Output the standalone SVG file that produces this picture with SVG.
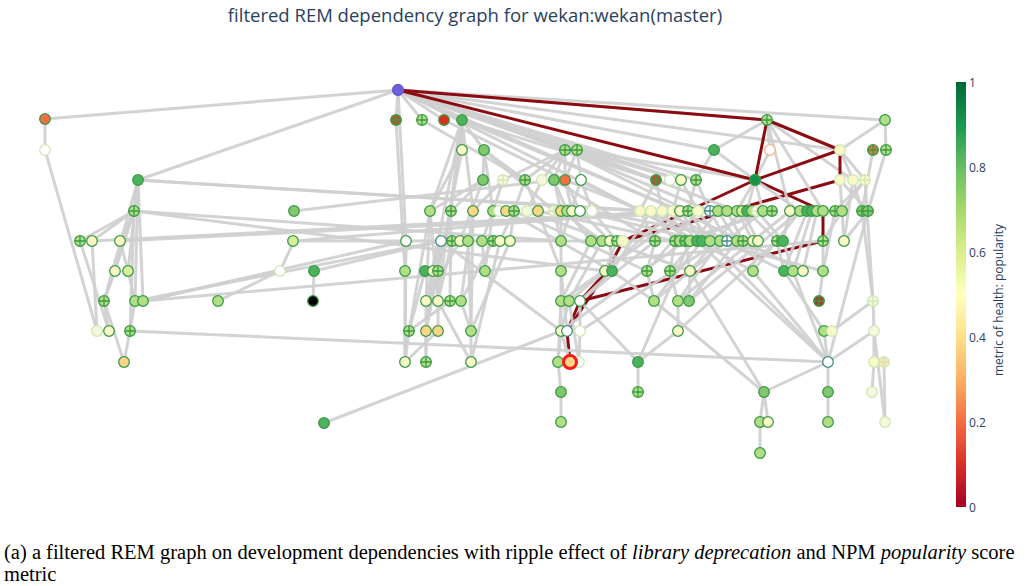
<svg xmlns="http://www.w3.org/2000/svg" width="1034" height="586" viewBox="0 0 1034 586">
<style>
.t{font-family:"Open Sans","DejaVu Sans",sans-serif;fill:#2a3f5f}
.cap{font-family:"Liberation Serif",serif;fill:#000}
#edges path{fill:none;stroke-linecap:round}
.ge path{stroke:#cfcfcf;stroke-width:3;stroke-opacity:.92}
.re path{stroke:#8b0b12;stroke-width:3}
.nd{stroke:#3a9a46;stroke-width:1.3}
.nd use{fill:none}
.fa{stroke:#cfe6b6}
.te{stroke:#3e8e84}
.os{stroke:#f5b48c}
.dg{fill:#17924a}.g{fill:#4bb35d}.m{fill:#80c86e}.lg{fill:#b2de86}.yg{fill:#d8ee9c}
.ly{fill:#f9f8c6}.w{fill:#fff}.ol{fill:#fcd688}.or{fill:#f46d43}.r{fill:#d7301f}
.br{fill:#b4552e}.k{fill:#000}.fy{fill:#f4f9de}
</style>
<defs>
<path id="x" d="M-5.3 0H5.3M0-5.3V5.3"/>
<linearGradient id="cs" x1="0" y1="1" x2="0" y2="0">
<stop offset="0" stop-color="#a50026"/><stop offset=".1" stop-color="#d73027"/>
<stop offset=".2" stop-color="#f46d43"/><stop offset=".3" stop-color="#fdae61"/>
<stop offset=".4" stop-color="#fee08b"/><stop offset=".5" stop-color="#ffffbf"/>
<stop offset=".6" stop-color="#d9ef8b"/><stop offset=".7" stop-color="#a6d96a"/>
<stop offset=".8" stop-color="#66bd63"/><stop offset=".9" stop-color="#1a9850"/>
<stop offset="1" stop-color="#006837"/>
</linearGradient>
</defs>
<rect width="1034" height="586" fill="#fff"/>
<text class="t" x="475" y="22" font-size="18.5" text-anchor="middle">filtered REM dependency graph for wekan:wekan(master)</text>

<g id="edges">
<g class="re">
<path d="M755 180L623 241"/><path d="M840 180L623 241"/><path d="M623 241L607 271"/>
<path d="M607 271L580 301"/><path d="M607 271L567 331"/><path d="M580 301L567 331"/>
<path d="M567 331L570 362"/><path d="M580 301L823 241"/><path d="M823 241L823 211"/>
<path d="M823 211L755 180"/>
</g>
<g class="ge">
<path d="M398 90L45 119"/><path d="M398 90L138 180"/><path d="M398 90L885 120"/><path d="M398 90L767 120"/>
<path d="M398 90L840 150"/><path d="M398 90L406 241"/><path d="M398 90L396 120"/><path d="M398 90L422 120"/>
<path d="M398 90L444 120"/><path d="M398 90L462 120"/><path d="M398 90L565 150"/><path d="M398 90L577 150"/>
<path d="M398 90L656 180"/><path d="M398 90L681 180"/><path d="M398 90L696 180"/><path d="M398 90L640 211"/>
<path d="M398 90L680 211"/><path d="M398 90L714 150"/>
<path d="M45 119L45 150"/><path d="M45 150L97 331"/><path d="M138 180L134 211"/><path d="M138 180L104 301"/>
<path d="M138 180L135 301"/><path d="M138 180L143 301"/><path d="M138 180L128 271"/><path d="M138 180L640 211"/>
<path d="M138 180L651 211"/><path d="M134 211L80 241"/><path d="M134 211L92 241"/><path d="M134 211L120 241"/>
<path d="M134 211L115 271"/><path d="M134 211L104 301"/><path d="M134 211L130 331"/><path d="M134 211L605 271"/>
<path d="M134 211L561 241"/><path d="M92 241L97 331"/><path d="M80 241L109 331"/><path d="M120 241L128 271"/>
<path d="M115 271L104 301"/><path d="M128 271L135 301"/><path d="M104 301L109 331"/><path d="M104 301L124 362"/>
<path d="M135 301L130 331"/><path d="M130 331L124 362"/><path d="M143 301L280 271"/><path d="M143 301L406 241"/>
<path d="M135 301L441 241"/><path d="M218 301L280 271"/><path d="M280 271L294 241"/><path d="M294 241L662 211"/>
<path d="M294 211L554 180"/><path d="M314 271L313 301"/><path d="M314 271L441 241"/><path d="M130 331L828 362"/>
<path d="M324 423L561 331"/><path d="M92 241L680 211"/><path d="M120 241L727 211"/><path d="M294 241L753 241"/>
<path d="M143 301L823 241"/>
<path d="M396 120L405 271"/><path d="M462 120L462 150"/><path d="M462 120L484 150"/><path d="M462 120L430 211"/>
<path d="M462 120L426 301"/><path d="M462 120L438 301"/><path d="M462 120L451 211"/><path d="M462 120L473 211"/>
<path d="M462 120L656 180"/><path d="M462 120L680 211"/><path d="M444 120L565 180"/><path d="M422 120L525 180"/>
<path d="M462 150L430 211"/><path d="M462 150L426 331"/><path d="M484 150L483 180"/><path d="M484 150L525 180"/>
<path d="M484 150L493 211"/><path d="M484 150L554 211"/><path d="M565 150L503 180"/><path d="M565 150L525 180"/>
<path d="M565 150L542 180"/><path d="M565 150L554 180"/><path d="M565 150L565 180"/><path d="M565 150L710 211"/>
<path d="M565 150L688 211"/><path d="M577 150L581 180"/><path d="M577 150L565 180"/><path d="M577 150L656 180"/>
<path d="M577 150L681 180"/><path d="M577 150L737 211"/><path d="M577 150L755 180"/><path d="M483 180L451 211"/>
<path d="M483 180L430 211"/><path d="M483 180L460 241"/><path d="M503 180L493 211"/><path d="M503 180L473 211"/>
<path d="M525 180L514 211"/><path d="M525 180L538 211"/><path d="M542 180L527 211"/><path d="M554 180L561 211"/>
<path d="M554 180L567 211"/><path d="M554 180L655 241"/><path d="M565 180L580 211"/><path d="M565 180L572 211"/>
<path d="M565 180L720 241"/><path d="M581 180L592 211"/><path d="M581 180L561 241"/><path d="M581 180L640 211"/>
<path d="M581 180L697 241"/><path d="M430 211L426 301"/><path d="M430 211L438 301"/><path d="M430 211L409 331"/>
<path d="M451 211L450 301"/><path d="M451 211L438 271"/><path d="M473 211L461 301"/><path d="M473 211L471 331"/>
<path d="M493 211L482 241"/><path d="M493 211L485 271"/><path d="M514 211L500 241"/><path d="M514 211L510 241"/>
<path d="M514 211L647 271"/><path d="M506 211L612 271"/><path d="M527 211L690 271"/><path d="M538 211L561 271"/>
<path d="M538 211L675 241"/><path d="M554 211L561 241"/><path d="M561 211L602 241"/><path d="M567 211L591 241"/>
<path d="M580 211L610 241"/><path d="M580 211L702 241"/><path d="M592 211L617 241"/><path d="M592 211L743 241"/>
<path d="M406 241L405 271"/><path d="M406 241L405 362"/><path d="M441 241L426 331"/><path d="M441 241L433 271"/>
<path d="M441 241L561 331"/><path d="M452 241L438 301"/><path d="M460 241L426 301"/><path d="M468 241L471 331"/>
<path d="M482 241L485 271"/><path d="M493 241L461 301"/><path d="M500 241L471 362"/><path d="M510 241L471 331"/>
<path d="M425 271L409 331"/><path d="M433 271L426 331"/><path d="M438 271L438 331"/><path d="M405 271L405 362"/>
<path d="M426 301L426 362"/><path d="M438 301L471 362"/><path d="M450 301L409 331"/><path d="M461 301L471 331"/>
<path d="M409 331L405 362"/><path d="M426 331L426 362"/><path d="M438 331L405 362"/><path d="M471 331L471 362"/>
<path d="M561 211L561 241"/><path d="M561 241L561 271"/><path d="M561 271L561 301"/><path d="M561 301L561 331"/>
<path d="M561 331L558 362"/><path d="M558 362L561 392"/><path d="M561 392L561 422"/><path d="M617 241L605 271"/>
<path d="M610 241L612 271"/><path d="M602 241L569 301"/><path d="M591 241L561 301"/><path d="M612 271L580 301"/>
<path d="M605 271L569 301"/><path d="M612 271L654 301"/><path d="M569 301L561 331"/><path d="M580 301L580 331"/>
<path d="M569 301L579 362"/><path d="M561 331L570 362"/><path d="M580 331L579 362"/><path d="M561 301L558 362"/>
<path d="M580 301L638 362"/><path d="M678 331L638 362"/><path d="M678 301L678 331"/><path d="M638 362L638 392"/>
<path d="M561 271L567 331"/>
<path d="M767 120L714 150"/><path d="M767 120L770 150"/><path d="M767 120L823 211"/><path d="M767 120L853 180"/>
<path d="M767 120L790 211"/><path d="M885 120L886 150"/><path d="M885 120L840 150"/><path d="M873 150L862 211"/>
<path d="M886 150L868 211"/><path d="M840 150L853 180"/><path d="M840 150L865 180"/><path d="M840 180L844 241"/>
<path d="M853 180L844 241"/><path d="M865 180L842 211"/><path d="M865 180L835 211"/><path d="M840 180L868 211"/>
<path d="M853 180L862 211"/><path d="M862 211L873 301"/><path d="M868 211L844 241"/><path d="M868 211L828 362"/>
<path d="M865 180L873 301"/><path d="M873 301L832 331"/><path d="M873 301L874 331"/><path d="M874 331L874 362"/>
<path d="M874 331L828 362"/><path d="M874 331L885 422"/><path d="M874 362L872 392"/><path d="M884 362L885 422"/>
<path d="M690 271L764 392"/><path d="M654 301L764 392"/><path d="M764 392L828 362"/><path d="M828 362L828 392"/>
<path d="M828 392L828 422"/><path d="M764 392L760 422"/><path d="M764 392L768 422"/><path d="M760 422L760 453"/>
<path d="M697 241L828 362"/><path d="M710 241L828 362"/><path d="M753 271L828 362"/><path d="M784 271L824 331"/>
<path d="M793 271L828 362"/><path d="M823 271L819 301"/><path d="M823 241L823 271"/><path d="M824 331L828 362"/>
<path d="M714 150L696 180"/><path d="M714 150L755 180"/><path d="M770 150L755 180"/><path d="M656 180L640 211"/>
<path d="M656 180L662 211"/><path d="M681 180L673 211"/><path d="M681 180L698 211"/><path d="M696 180L688 211"/>
<path d="M696 180L710 211"/><path d="M755 180L737 211"/><path d="M755 180L747 211"/><path d="M755 180L763 211"/>
<path d="M755 180L800 211"/><path d="M640 211L655 241"/><path d="M651 211L675 241"/><path d="M662 211L685 241"/>
<path d="M673 211L697 241"/><path d="M680 211L702 241"/><path d="M688 211L710 241"/><path d="M698 211L720 241"/>
<path d="M710 211L727 241"/><path d="M718 211L737 241"/><path d="M727 211L743 241"/><path d="M737 211L753 241"/>
<path d="M742 211L758 241"/><path d="M747 211L777 241"/><path d="M757 211L783 241"/><path d="M763 211L690 241"/>
<path d="M772 211L680 241"/><path d="M790 211L783 241"/><path d="M800 211L753 271"/><path d="M807 211L784 271"/>
<path d="M812 211L793 271"/><path d="M817 211L803 271"/><path d="M835 211L823 271"/><path d="M842 211L823 241"/>
<path d="M640 211L753 271"/><path d="M662 211L784 271"/><path d="M680 211L803 271"/><path d="M698 211L647 271"/>
<path d="M718 211L670 271"/><path d="M742 211L690 271"/><path d="M763 211L654 301"/><path d="M790 211L678 301"/>
<path d="M800 211L689 301"/><path d="M651 211L612 271"/><path d="M673 211L605 271"/><path d="M688 211L561 301"/>
<path d="M655 241L647 271"/><path d="M675 241L670 271"/><path d="M685 241L690 271"/><path d="M702 241L654 301"/>
<path d="M720 241L678 301"/><path d="M737 241L689 301"/><path d="M758 241L753 271"/><path d="M783 241L793 271"/>
<path d="M777 241L784 271"/><path d="M743 241L803 271"/><path d="M710 241L823 271"/><path d="M647 271L654 301"/>
<path d="M670 271L678 301"/><path d="M690 271L689 301"/><path d="M655 241L580 301"/><path d="M685 241L561 331"/>
<path d="M720 241L580 331"/><path d="M777 241L678 331"/><path d="M690 241L638 362"/>
</g>
<g class="re">
<path d="M398 90L767 120"/><path d="M398 90L755 180"/><path d="M767 120L755 180"/>
<path d="M767 120L840 150"/><path d="M755 180L840 150"/><path d="M840 150L840 180" stroke-width="2"/>
</g>
</g>

<g id="nodes">
<g id="root" class="nd" style="stroke:#6a5acd" transform="translate(398 90)"><circle r="5.5" fill="#6c5fd6"/></g>
<!-- row y=120 -->
<g id="n1" class="nd" transform="translate(45 119)"><circle r="5.3" class="or"/></g>
<g id="n2" class="nd" transform="translate(396 120)"><circle r="5.3" class="br"/><use href="#x"/></g>
<g id="n3" class="nd" transform="translate(422 120)"><circle r="5.3" class="lg"/><use href="#x"/></g>
<g id="n4" class="nd" transform="translate(444 120)"><circle r="5.3" class="r"/></g>
<g id="n5" class="nd" transform="translate(462 120)"><circle r="5.3" class="g"/></g>
<g id="n6" class="nd" transform="translate(767 120)"><circle r="5.3" class="lg"/><use href="#x"/></g>
<g id="n7" class="nd" transform="translate(885 120)"><circle r="5.3" class="lg"/></g>
<!-- row y=150 -->
<g id="n8" class="nd fa" transform="translate(45 150)"><circle r="5.3" class="w"/></g>
<g id="n9" class="nd" transform="translate(462 150)"><circle r="5.3" class="ly"/></g>
<g id="n10" class="nd" transform="translate(484 150)"><circle r="5.3" class="m"/></g>
<g id="n11" class="nd" transform="translate(565 150)"><circle r="5.3" class="lg"/><use href="#x"/></g>
<g id="n12" class="nd" transform="translate(577 150)"><circle r="5.3" class="lg"/><use href="#x"/></g>
<g id="n13" class="nd" transform="translate(714 150)"><circle r="5.3" class="g"/></g>
<g id="n14" class="nd os" transform="translate(770 150)"><circle r="5.3" class="w"/></g>
<g id="n15" class="nd fa" transform="translate(840 150)"><circle r="5.3" class="ly"/></g>
<g id="n16" class="nd" transform="translate(873 150)"><circle r="5.3" fill="#c9803c"/><use href="#x"/></g>
<g id="n17" class="nd" transform="translate(886 150)"><circle r="5.3" class="lg"/><use href="#x"/></g>
<!-- row y=180 -->
<g id="n18" class="nd" transform="translate(138 180)"><circle r="5.3" class="g"/></g>
<g id="n19" class="nd" transform="translate(483 180)"><circle r="5.3" class="m"/></g>
<g id="n20" class="nd fa" transform="translate(503 180)"><circle r="5.3" class="fy"/><use href="#x"/></g>
<g id="n21" class="nd" transform="translate(525 180)"><circle r="5.3" class="lg"/><use href="#x"/></g>
<g id="n22" class="nd fa" transform="translate(542 180)"><circle r="5.3" class="fy"/></g>
<g id="n23" class="nd" transform="translate(554 180)"><circle r="5.3" class="m"/></g>
<g id="n24" class="nd" transform="translate(565 180)"><circle r="5.3" class="or"/></g>
<g id="n25" class="nd" transform="translate(581 180)"><circle r="5.3" class="w"/></g>
<g id="n26" class="nd" transform="translate(656 180)"><circle r="5.3" class="br"/><use href="#x"/></g>
<g id="n27" class="nd fa" transform="translate(670 180)"><circle r="5.3" class="w"/></g>
<g id="n28" class="nd" transform="translate(681 180)"><circle r="5.3" class="ly"/></g>
<g id="n29" class="nd" transform="translate(696 180)"><circle r="5.3" class="lg"/><use href="#x"/></g>
<g id="n30" class="nd" transform="translate(755 180)"><circle r="5.5" class="dg"/></g>
<g id="n31" class="nd fa" transform="translate(840 180)"><circle r="5.3" class="ly"/></g>
<g id="n32" class="nd fa" transform="translate(853 180)"><circle r="5.3" class="ly"/></g>
<g id="n33" class="nd fa" transform="translate(865 180)"><circle r="5.3" class="ly"/><use href="#x"/></g>
<!-- row y=211 -->
<g id="n34" class="nd" transform="translate(134 211)"><circle r="5.3" class="lg"/><use href="#x"/></g>
<g id="n35" class="nd" transform="translate(294 211)"><circle r="5.3" class="m"/></g>
<g id="n36" class="nd" transform="translate(430 211)"><circle r="5.3" class="lg"/></g>
<g id="n37" class="nd" transform="translate(451 211)"><circle r="5.3" class="lg"/><use href="#x"/></g>
<g id="n38" class="nd" transform="translate(473 211)"><circle r="5.3" class="ol"/></g>
<g id="n39" class="nd" transform="translate(493 211)"><circle r="5.3" class="lg"/></g>
<g id="n40" class="nd fa" transform="translate(499 211)"><circle r="5.3" class="w"/></g>
<g id="n41" class="nd" transform="translate(506 211)"><circle r="5.3" class="ol"/></g>
<g id="n42" class="nd" transform="translate(514 211)"><circle r="5.3" class="lg"/><use href="#x"/></g>
<g id="n43" class="nd fa" transform="translate(527 211)"><circle r="5.3" class="fy"/></g>
<g id="n44" class="nd" transform="translate(538 211)"><circle r="5.3" class="ol"/></g>
<g id="n45" class="nd fa" transform="translate(554 211)"><circle r="5.3" class="fy"/><use href="#x"/></g>
<g id="n46" class="nd" transform="translate(561 211)"><circle r="5.3" class="ol"/></g>
<g id="n47" class="nd" transform="translate(567 211)"><circle r="5.3" class="lg"/></g>
<g id="n48" class="nd" transform="translate(572 211)"><circle r="5.3" class="ly"/></g>
<g id="n49" class="nd" transform="translate(580 211)"><circle r="5.3" class="w"/></g>
<g id="n50" class="nd fa" transform="translate(592 211)"><circle r="5.3" class="w"/></g>
<g id="n51" class="nd fa" transform="translate(640 211)"><circle r="5.3" class="ly"/></g>
<g id="n52" class="nd fa" transform="translate(651 211)"><circle r="5.3" class="ly"/></g>
<g id="n53" class="nd fa" transform="translate(662 211)"><circle r="5.3" class="ly"/></g>
<g id="n54" class="nd fa" transform="translate(673 211)"><circle r="5.3" class="ly"/></g>
<g id="n55" class="nd" transform="translate(680 211)"><circle r="5.3" class="ly"/></g>
<g id="n56" class="nd" transform="translate(688 211)"><circle r="5.3" class="lg"/><use href="#x"/></g>
<g id="n57" class="nd fa" transform="translate(698 211)"><circle r="5.3" class="ly"/></g>
<g id="n58" class="nd te" transform="translate(710 211)"><circle r="5.3" class="w"/><use href="#x"/></g>
<g id="n59" class="nd" transform="translate(718 211)"><circle r="5.3" class="lg"/></g>
<g id="n60" class="nd" transform="translate(727 211)"><circle r="5.3" class="lg"/></g>
<g id="n61" class="nd" transform="translate(737 211)"><circle r="5.3" class="lg"/></g>
<g id="n62" class="nd" transform="translate(742 211)"><circle r="5.3" class="yg"/></g>
<g id="n63" class="nd" transform="translate(747 211)"><circle r="5.3" class="g"/></g>
<g id="n64" class="nd" transform="translate(752 211)"><circle r="5.3" class="lg"/></g>
<g id="n65" class="nd fa" transform="translate(757 211)"><circle r="5.3" class="w"/><use href="#x"/></g>
<g id="n66" class="nd" transform="translate(763 211)"><circle r="5.3" class="lg"/></g>
<g id="n67" class="nd" transform="translate(772 211)"><circle r="5.3" class="lg"/><use href="#x"/></g>
<g id="n68" class="nd" transform="translate(790 211)"><circle r="5.3" class="ly"/></g>
<g id="n69" class="nd" transform="translate(800 211)"><circle r="5.3" class="lg"/></g>
<g id="n70" class="nd" transform="translate(807 211)"><circle r="5.3" class="g"/></g>
<g id="n71" class="nd" transform="translate(812 211)"><circle r="5.3" class="g"/></g>
<g id="n72" class="nd" transform="translate(817 211)"><circle r="5.3" class="lg"/></g>
<g id="n73" class="nd" transform="translate(823 211)"><circle r="5.3" class="lg"/></g>
<g id="n74" class="nd" transform="translate(835 211)"><circle r="5.3" class="lg"/><use href="#x"/></g>
<g id="n75" class="nd" transform="translate(842 211)"><circle r="5.3" class="lg"/></g>
<g id="n76" class="nd" transform="translate(862 211)"><circle r="5.3" class="m"/><use href="#x"/></g>
<g id="n77" class="nd" transform="translate(868 211)"><circle r="5.3" class="m"/><use href="#x"/></g>
<!-- row y=241 -->
<g id="n78" class="nd" transform="translate(80 241)"><circle r="5.3" class="lg"/><use href="#x"/></g>
<g id="n79" class="nd" transform="translate(92 241)"><circle r="5.3" class="ly"/></g>
<g id="n80" class="nd" transform="translate(120 241)"><circle r="5.3" class="ly"/></g>
<g id="n81" class="nd" transform="translate(293 241)"><circle r="5.3" class="yg"/></g>
<g id="n82" class="nd" transform="translate(406 241)"><circle r="5.3" class="w"/></g>
<g id="n83" class="nd te" transform="translate(441 241)"><circle r="5.3" class="w"/></g>
<g id="n84" class="nd" transform="translate(452 241)"><circle r="5.3" class="lg"/><use href="#x"/></g>
<g id="n85" class="nd" transform="translate(460 241)"><circle r="5.3" class="ly"/></g>
<g id="n86" class="nd" transform="translate(468 241)"><circle r="5.3" class="lg"/></g>
<g id="n87" class="nd" transform="translate(482 241)"><circle r="5.3" class="lg"/></g>
<g id="n88" class="nd" transform="translate(493 241)"><circle r="5.3" class="lg"/><use href="#x"/></g>
<g id="n89" class="nd" transform="translate(500 241)"><circle r="5.3" class="ly"/></g>
<g id="n90" class="nd" transform="translate(510 241)"><circle r="5.3" class="ly"/></g>
<g id="n91" class="nd" transform="translate(561 241)"><circle r="5.3" class="lg"/></g>
<g id="n92" class="nd" transform="translate(591 241)"><circle r="5.3" class="lg"/></g>
<g id="n93" class="nd" transform="translate(602 241)"><circle r="5.3" class="lg"/></g>
<g id="n94" class="nd" transform="translate(610 241)"><circle r="5.3" class="ly"/></g>
<g id="n95" class="nd" transform="translate(617 241)"><circle r="5.3" class="lg"/><use href="#x"/></g>
<g id="n96" class="nd fa" transform="translate(623 241)"><circle r="5.3" class="ly"/></g>
<g id="n97" class="nd" transform="translate(655 241)"><circle r="5.3" class="lg"/><use href="#x"/></g>
<g id="n98" class="nd" transform="translate(675 241)"><circle r="5.3" class="lg"/><use href="#x"/></g>
<g id="n99" class="nd" transform="translate(680 241)"><circle r="5.3" class="lg"/></g>
<g id="n100" class="nd" transform="translate(685 241)"><circle r="5.3" class="m"/><use href="#x"/></g>
<g id="n101" class="nd" transform="translate(690 241)"><circle r="5.3" class="lg"/></g>
<g id="n102" class="nd" transform="translate(697 241)"><circle r="5.3" class="g"/></g>
<g id="n103" class="nd" transform="translate(702 241)"><circle r="5.3" class="g"/></g>
<g id="n104" class="nd" transform="translate(710 241)"><circle r="5.3" class="lg"/></g>
<g id="n105" class="nd" transform="translate(720 241)"><circle r="5.3" class="lg"/></g>
<g id="n106" class="nd te" transform="translate(727 241)"><circle r="5.3" class="w"/><use href="#x"/></g>
<g id="n107" class="nd" transform="translate(737 241)"><circle r="5.3" class="lg"/></g>
<g id="n108" class="nd" transform="translate(743 241)"><circle r="5.3" class="lg"/><use href="#x"/></g>
<g id="n109" class="nd" transform="translate(753 241)"><circle r="5.3" class="ly"/></g>
<g id="n110" class="nd" transform="translate(758 241)"><circle r="5.3" class="ly"/></g>
<g id="n111" class="nd" transform="translate(777 241)"><circle r="5.3" class="lg"/><use href="#x"/></g>
<g id="n112" class="nd" transform="translate(783 241)"><circle r="5.3" class="g"/></g>
<g id="n113" class="nd" transform="translate(823 241)"><circle r="5.3" class="lg"/><use href="#x"/></g>
<g id="n114" class="nd" transform="translate(844 241)"><circle r="5.3" class="ly"/></g>
<!-- row y=271 -->
<g id="n115" class="nd" transform="translate(115 271)"><circle r="5.3" class="ly"/></g>
<g id="n116" class="nd" transform="translate(128 271)"><circle r="5.3" class="yg"/></g>
<g id="n117" class="nd fa" transform="translate(280 271)"><circle r="5.3" class="w"/></g>
<g id="n118" class="nd" transform="translate(314 271)"><circle r="5.3" class="g"/></g>
<g id="n119" class="nd" transform="translate(405 271)"><circle r="5.3" class="lg"/></g>
<g id="n120" class="nd" transform="translate(425 271)"><circle r="5.3" class="g"/></g>
<g id="n121" class="nd" transform="translate(433 271)"><circle r="5.3" class="ly"/></g>
<g id="n122" class="nd" transform="translate(438 271)"><circle r="5.3" class="lg"/><use href="#x"/></g>
<g id="n123" class="nd" transform="translate(485 271)"><circle r="5.3" class="lg"/></g>
<g id="n124" class="nd" transform="translate(561 271)"><circle r="5.3" class="lg"/></g>
<g id="n125" class="nd" transform="translate(605 271)"><circle r="5.3" class="ly"/></g>
<g id="n126" class="nd" transform="translate(612 271)"><circle r="5.3" class="g"/></g>
<g id="n127" class="nd" transform="translate(647 271)"><circle r="5.3" class="lg"/><use href="#x"/></g>
<g id="n128" class="nd" transform="translate(670 271)"><circle r="5.3" class="lg"/><use href="#x"/></g>
<g id="n129" class="nd" transform="translate(690 271)"><circle r="5.3" class="ly"/></g>
<g id="n130" class="nd" transform="translate(753 271)"><circle r="5.3" class="lg"/></g>
<g id="n131" class="nd" transform="translate(784 271)"><circle r="5.3" class="g"/></g>
<g id="n132" class="nd" transform="translate(793 271)"><circle r="5.3" class="lg"/></g>
<g id="n133" class="nd" transform="translate(803 271)"><circle r="5.3" class="ly"/></g>
<g id="n134" class="nd" transform="translate(823 271)"><circle r="5.3" class="lg"/></g>
<!-- row y=301 -->
<g id="n135" class="nd" transform="translate(104 301)"><circle r="5.3" class="lg"/><use href="#x"/></g>
<g id="n136" class="nd" transform="translate(135 301)"><circle r="5.3" class="lg"/></g>
<g id="n137" class="nd" transform="translate(143 301)"><circle r="5.3" class="lg"/></g>
<g id="n138" class="nd" transform="translate(218 301)"><circle r="5.3" class="lg"/></g>
<g id="n139" class="nd" transform="translate(313 301)"><circle r="5.3" class="k"/></g>
<g id="n140" class="nd" transform="translate(426 301)"><circle r="5.3" class="ly"/></g>
<g id="n141" class="nd" transform="translate(438 301)"><circle r="5.3" class="ly"/></g>
<g id="n142" class="nd" transform="translate(450 301)"><circle r="5.3" class="lg"/><use href="#x"/></g>
<g id="n143" class="nd" transform="translate(461 301)"><circle r="5.3" class="lg"/></g>
<g id="n144" class="nd" transform="translate(561 301)"><circle r="5.3" class="lg"/></g>
<g id="n145" class="nd" transform="translate(569 301)"><circle r="5.3" class="lg"/></g>
<g id="n146" class="nd" transform="translate(580 301)"><circle r="5.3" class="w"/></g>
<g id="n147" class="nd" transform="translate(654 301)"><circle r="5.3" class="lg"/></g>
<g id="n148" class="nd" transform="translate(678 301)"><circle r="5.3" class="lg"/></g>
<g id="n149" class="nd" transform="translate(689 301)"><circle r="5.3" class="m"/></g>
<g id="n150" class="nd" transform="translate(819 301)"><circle r="5.3" fill="#a63b26"/><use href="#x"/></g>
<g id="n151" class="nd fa" transform="translate(873 301)"><circle r="5.3" class="fy"/><use href="#x"/></g>
<!-- row y=331 -->
<g id="n152" class="nd fa" transform="translate(97 331)"><circle r="5.3" class="fy"/></g>
<g id="n153" class="nd" transform="translate(109 331)"><circle r="5.3" class="ly"/></g>
<g id="n154" class="nd" transform="translate(130 331)"><circle r="5.3" class="lg"/><use href="#x"/></g>
<g id="n155" class="nd" transform="translate(409 331)"><circle r="5.3" class="lg"/><use href="#x"/></g>
<g id="n156" class="nd" transform="translate(426 331)"><circle r="5.3" class="ol"/></g>
<g id="n157" class="nd" transform="translate(438 331)"><circle r="5.3" class="ol"/></g>
<g id="n158" class="nd" transform="translate(471 331)"><circle r="5.3" class="lg"/></g>
<g id="n159" class="nd" transform="translate(561 331)"><circle r="5.3" class="ly"/></g>
<g id="n160" class="nd te" transform="translate(567 331)"><circle r="5.3" class="w"/></g>
<g id="n161" class="nd fa" transform="translate(580 331)"><circle r="5.3" class="w"/></g>
<g id="n162" class="nd" transform="translate(678 331)"><circle r="5.3" class="ly"/></g>
<g id="n163" class="nd" transform="translate(824 331)"><circle r="5.3" class="lg"/></g>
<g id="n164" class="nd fa" transform="translate(832 331)"><circle r="5.3" class="ly"/></g>
<g id="n165" class="nd fa" transform="translate(874 331)"><circle r="5.3" class="fy"/></g>
<!-- row y=362 -->
<g id="n166" class="nd" transform="translate(124 362)"><circle r="5.3" class="ol"/></g>
<g id="n167" class="nd" transform="translate(405 362)"><circle r="5.3" class="ly"/></g>
<g id="n168" class="nd" transform="translate(426 362)"><circle r="5.3" class="lg"/><use href="#x"/></g>
<g id="n169" class="nd" transform="translate(471 362)"><circle r="5.3" class="ly"/></g>
<g id="n170" class="nd" transform="translate(558 362)"><circle r="5.3" class="lg"/></g>
<g id="n171" class="nd fa" transform="translate(579 362)"><circle r="5.3" class="w"/></g>
<g id="n172" class="nd" style="stroke:#ff1a1a;stroke-width:3" transform="translate(570 362)"><circle r="6.5" class="ol"/></g>
<g id="n173" class="nd" transform="translate(638 362)"><circle r="5.3" class="g"/></g>
<g id="n174" class="nd te" transform="translate(828 362)"><circle r="5.3" class="w"/></g>
<g id="n175" class="nd fa" transform="translate(874 362)"><circle r="5.3" class="ly"/></g>
<g id="n176" class="nd fa" transform="translate(884 362)"><circle r="5.3" fill="#fbe3b8"/><use href="#x"/></g>
<!-- row y=392 -->
<g id="n177" class="nd" transform="translate(561 392)"><circle r="5.3" class="m"/></g>
<g id="n178" class="nd" transform="translate(638 392)"><circle r="5.3" class="lg"/><use href="#x"/></g>
<g id="n179" class="nd" transform="translate(764 392)"><circle r="5.3" class="m"/></g>
<g id="n180" class="nd" transform="translate(828 392)"><circle r="5.3" class="m"/></g>
<g id="n181" class="nd fa" transform="translate(872 392)"><circle r="5.3" class="fy"/></g>
<!-- row y=422 -->
<g id="n182" class="nd" transform="translate(324 423)"><circle r="5.3" class="g"/></g>
<g id="n183" class="nd" transform="translate(561 422)"><circle r="5.3" class="lg"/></g>
<g id="n184" class="nd" transform="translate(760 422)"><circle r="5.3" class="lg"/></g>
<g id="n185" class="nd" transform="translate(768 422)"><circle r="5.3" class="ly"/></g>
<g id="n186" class="nd" transform="translate(828 422)"><circle r="5.3" class="lg"/></g>
<g id="n187" class="nd fa" transform="translate(885 422)"><circle r="5.3" class="fy"/></g>
<!-- row y=453 -->
<g id="n188" class="nd" transform="translate(760 453)"><circle r="5.3" class="lg"/></g>
</g>

<g id="colorbar">
<rect x="956" y="82" width="10" height="425" fill="url(#cs)"/>
<g class="t" font-size="12" fill="#444">
<text x="969" y="87">1</text>
<text x="969" y="172">0.8</text>
<text x="969" y="257">0.6</text>
<text x="969" y="342">0.4</text>
<text x="969" y="427">0.2</text>
<text x="969" y="512">0</text>
</g>
<text class="t" font-size="12" fill="#444" text-anchor="middle" transform="translate(1003 300) rotate(-90)">metric of health: popularity</text>
</g>

<g id="caption" class="cap" font-size="20.5">
<text x="4" y="559">(a) a filtered REM graph on development dependencies with ripple effect of <tspan font-style="italic">library deprecation</tspan> and NPM <tspan font-style="italic">popularity</tspan> score</text>
<text x="4" y="581">metric</text>
</g>
</svg>
